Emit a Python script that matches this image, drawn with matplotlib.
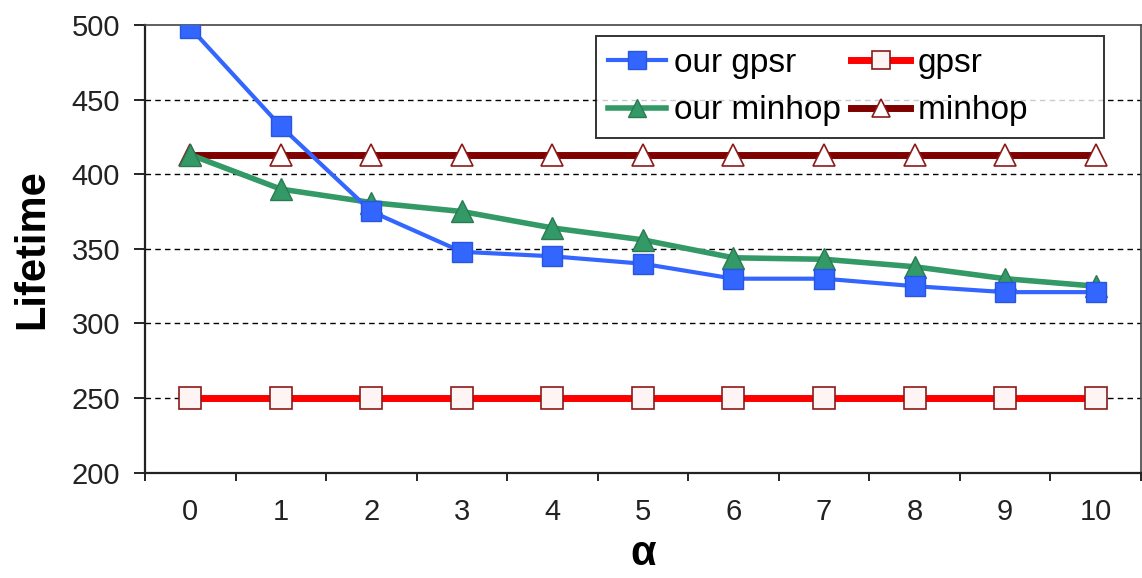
import matplotlib.pyplot as plt
import numpy as np

plt.rcParams["font.family"] = ["Liberation Sans", "DejaVu Sans"]

alpha = [0, 1, 2, 3, 4, 5, 6, 7, 8, 9, 10]
our_gpsr = [498, 432, 375, 348, 345, 340, 330, 330, 325, 321, 321]
our_minhop = [413, 390, 381, 375, 364, 356, 344, 343, 338, 330, 325]
gpsr = [250] * 11
minhop = [413] * 11

y_ticks = [200, 250, 300, 350, 400, 450, 500]


def main():
    fig = plt.figure(figsize=(11.42, 5.78), dpi=100)
    ax = fig.add_axes([0.127, 0.182, 0.872, 0.775])

    x = np.arange(len(alpha))

    ax.plot(x, gpsr, color="#ff0000", lw=5, marker="s", ms=16,
            mfc="#fff4f4", mec="#8b1a1a", mew=1.2, label="gpsr", zorder=3)
    ax.plot(x, minhop, color="#800000", lw=5, marker="^", ms=16,
            mfc="#ffffff", mec="#8b1a1a", mew=1.2, label="minhop", zorder=3)
    ax.plot(x, our_minhop, color="#339966", lw=4, marker="^", ms=16,
            mfc="#339966", mec="#2a7a52", label="our minhop", zorder=4)
    ax.plot(x, our_gpsr, color="#3366ff", lw=3, marker="s", ms=15,
            mfc="#3366ff", mec="#2a55e0", label="our gpsr", zorder=5)

    ax.set_xlim(-0.5, len(alpha) - 0.5)
    ax.set_ylim(200, 500)
    ax.set_yticks(y_ticks)
    ax.set_yticklabels([str(v) for v in y_ticks], fontsize=21, color="#222222")

    # category ticks sit between the points, labels under each point
    ax.set_xticks(np.arange(-0.5, len(alpha), 1.0))
    ax.set_xticklabels([])
    ax.set_xticks(x, minor=True)
    ax.set_xticklabels([str(a) for a in alpha], minor=True, fontsize=21, color="#222222")
    ax.tick_params(axis="x", which="major", direction="out", length=6, width=1.2)
    ax.tick_params(axis="x", which="minor", length=0, pad=18)
    ax.tick_params(axis="y", direction="out", length=8, width=1.2, pad=10)

    for v in y_ticks[1:-1]:
        ax.axhline(v, color="black", lw=1, ls=(0, (4, 3)), zorder=1)

    for side in ("left", "bottom"):
        ax.spines[side].set_linewidth(1.6)
        ax.spines[side].set_color("#222222")
    for side in ("top", "right"):
        ax.spines[side].set_linewidth(1.2)
        ax.spines[side].set_color("#444444")

    ax.set_ylabel("Lifetime", fontsize=30, fontweight="bold", labelpad=14)
    ax.set_xlabel("α", fontsize=30, fontweight="bold", labelpad=6)

    handles, labels = ax.get_legend_handles_labels()
    order = [3, 2, 0, 1]
    # trailing spaces widen the second column so the box reaches further right
    legend_labels = ["our gpsr", "our minhop", "gpsr", "minhop       "]
    leg = ax.legend([handles[i] for i in order], legend_labels,
                    ncol=2, loc="upper left", bbox_to_anchor=(0.453, 0.975),
                    fontsize=24, frameon=True, fancybox=False,
                    edgecolor="black", handlelength=1.75, handletextpad=0.25,
                    columnspacing=0.3, borderpad=0.35, labelspacing=0.5,
                    borderaxespad=0, markerscale=0.85)
    leg.get_frame().set_linewidth(1.4)

    fig.savefig("out.png", dpi=100)


if __name__ == "__main__":
    main()
